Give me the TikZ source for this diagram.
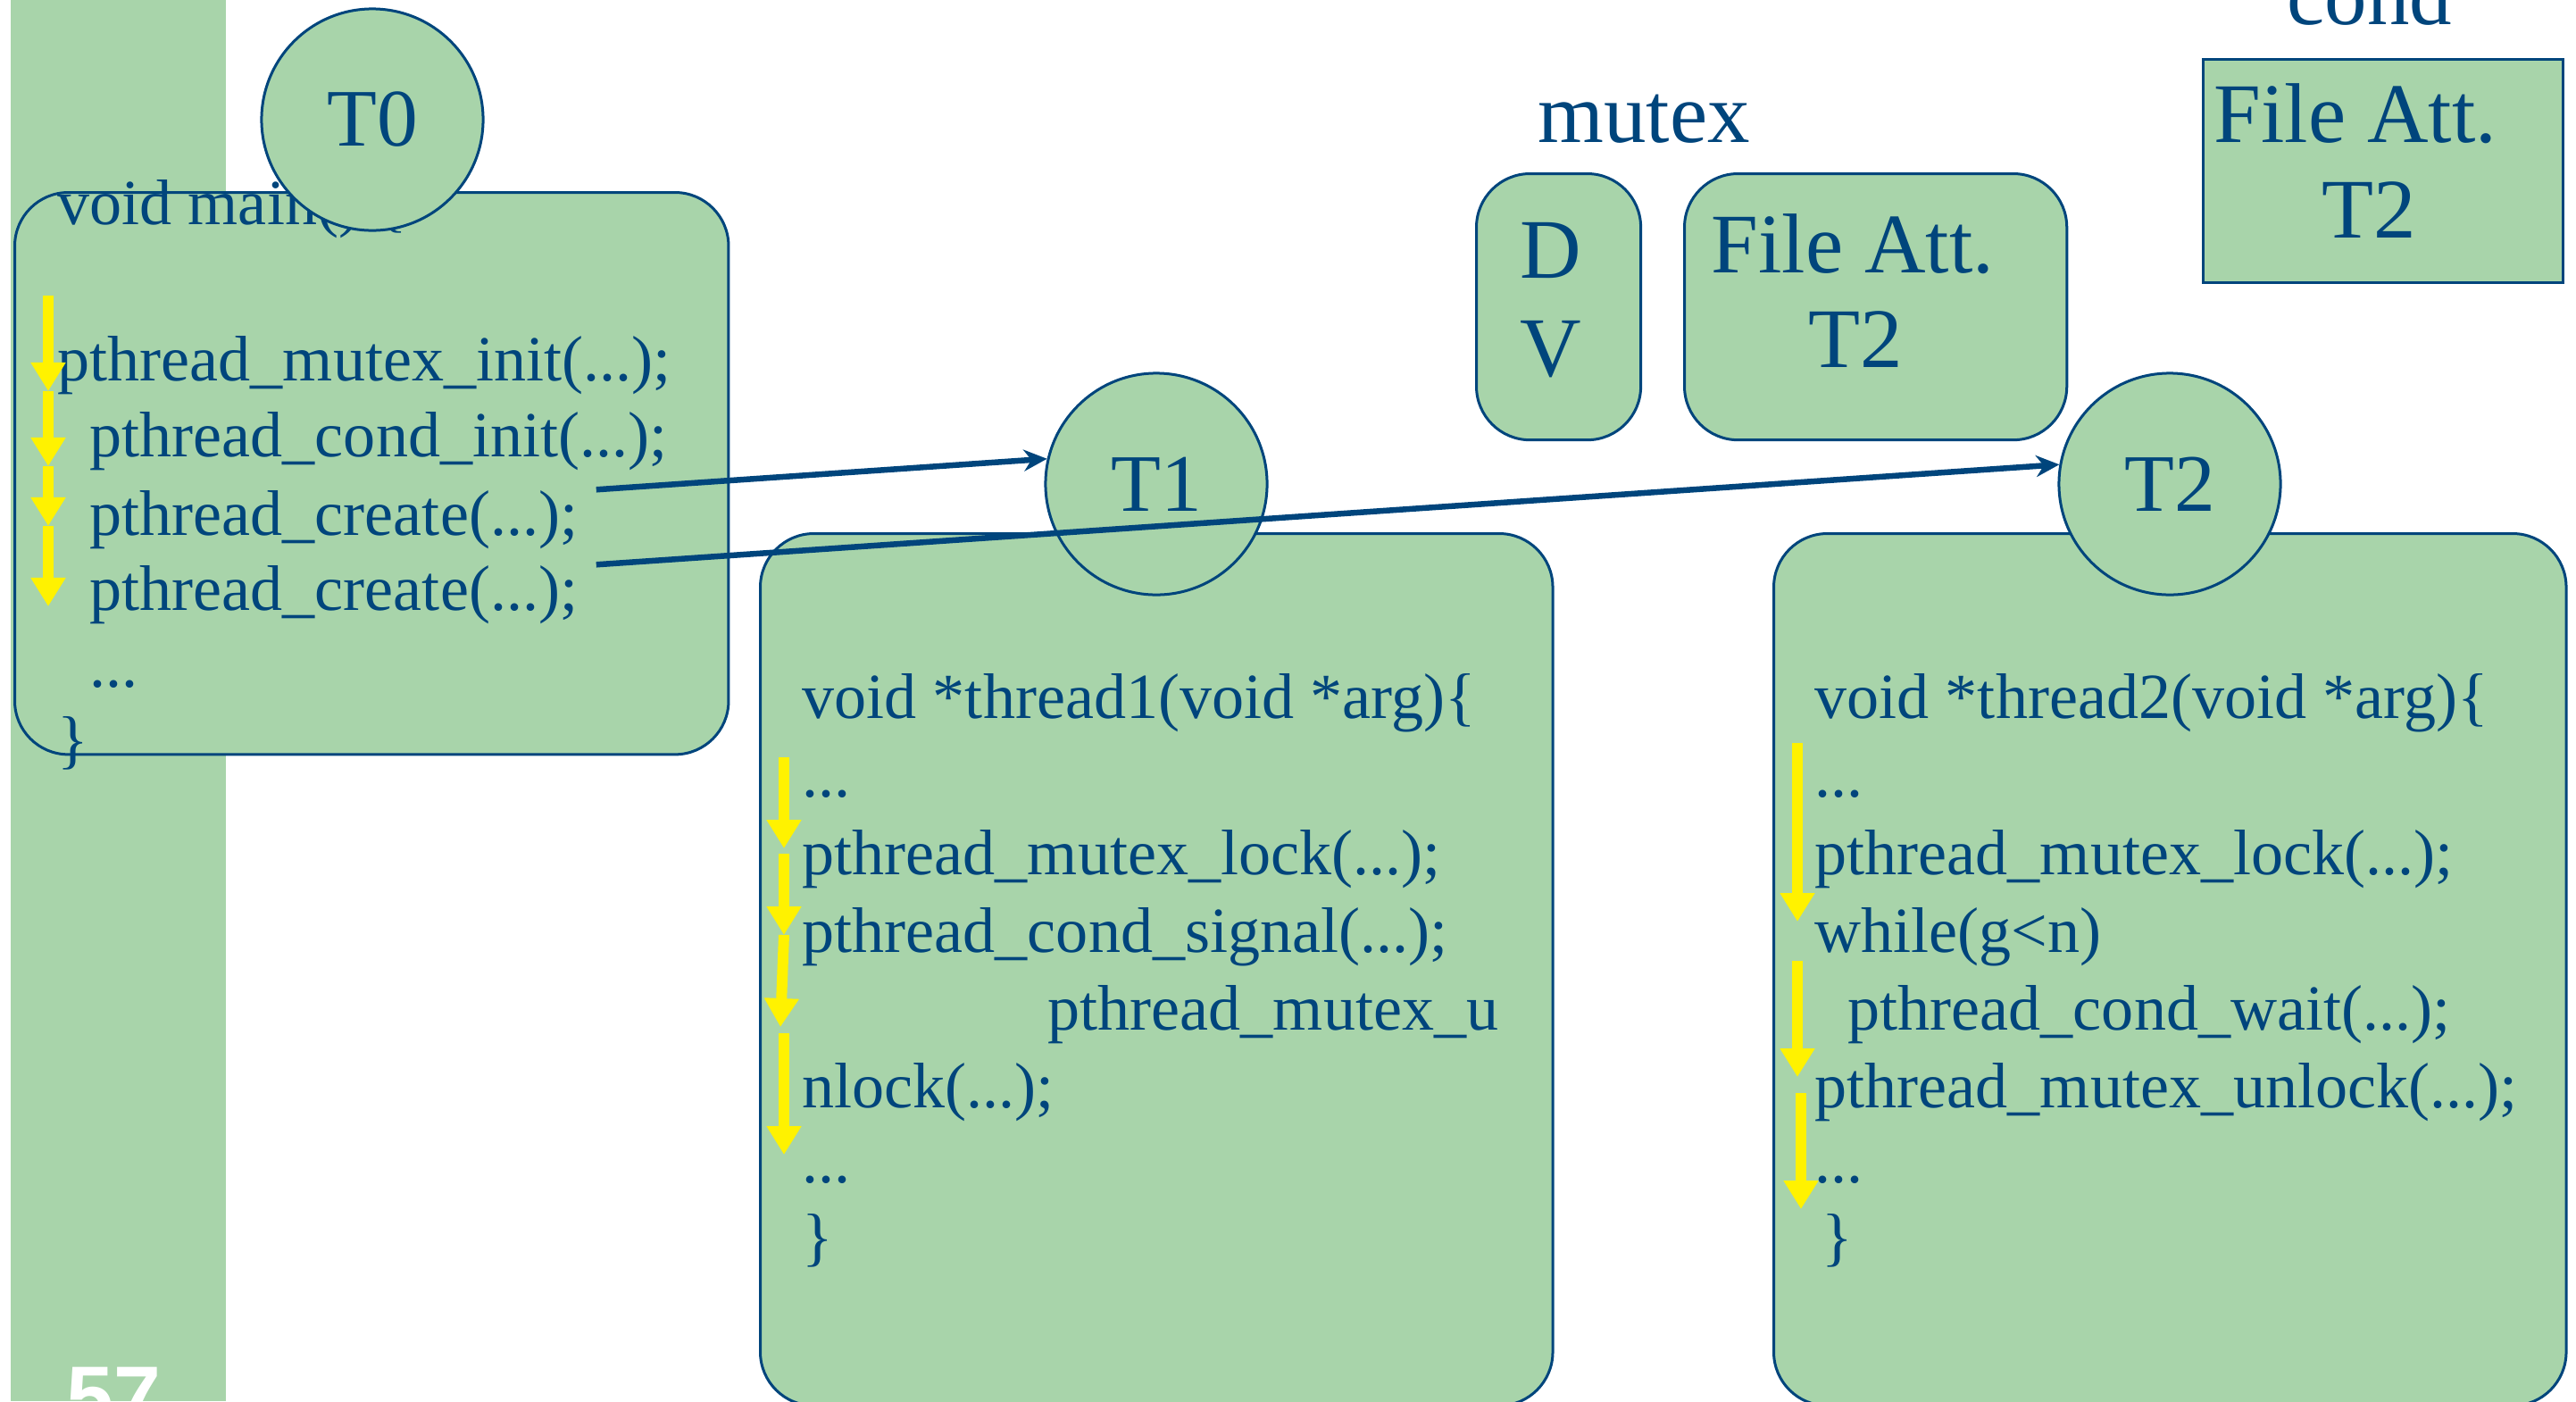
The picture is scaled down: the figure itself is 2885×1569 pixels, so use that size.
\documentclass[tikz,border=0pt]{standalone}
\usepackage{fontspec}
\setmainfont{Liberation Serif}
\newfontfamily\pagenumfont{Liberation Sans}
\usetikzlibrary{arrows.meta}
\definecolor{slideblue}{RGB}{0,69,124}
\definecolor{slidegreen}{RGB}{168,212,170}
\newcommand{\codesize}{\fontsize{20.5}{24.5}\selectfont}
\newcommand{\labelsize}{\fontsize{27}{30.5}\selectfont}

\begin{document}
\begin{tikzpicture}[x=0.01cm, y=-0.01cm,
% common options for the code boxes:
codebox/.style = {draw=slideblue, fill=slidegreen, line width=0.03cm,
            rounded corners=0.6cm, anchor=north west, inner sep=0},
% common options for the thread circles:
thread/.style = {circle, draw=slideblue, fill=slidegreen, line width=0.03cm,
            minimum size=2.48cm, inner sep=0, text=slideblue,
            font=\fontsize{26}{30}\selectfont},
code/.style = {anchor=base west, inner sep=0, text=slideblue, font=\codesize},
lbl/.style = {anchor=base, inner sep=0, text=slideblue, font=\labelsize},
flow/.style = {draw=yellow, line width=0.12cm, -{Triangle[width=0.37cm,length=0.32cm]}},
spawn/.style = {draw=slideblue, line width=0.065cm, -{Stealth[width=0.24cm,length=0.26cm]}}]
\useasboundingbox (0,0) rectangle (2885,1569);
\fill[slidegreen] (12,0) rectangle (253,1569);
\node[anchor=base west, inner sep=0, text=white,
      font=\pagenumfont\bfseries\fontsize{27}{30}\selectfont] (pagenum) at (74,1596) {57};
% boxes
\node[codebox, minimum width=7.99cm, minimum height=6.29cm] (mainbox) at (15,214) {};
\node[codebox, minimum width=8.87cm, minimum height=9.76cm] (box1) at (850,596) {};
\node[codebox, minimum width=8.87cm, minimum height=9.76cm] (box2) at (1985,596) {};
\node[codebox, minimum width=1.84cm, minimum height=2.98cm] (dv) at (1652,193) {};
\node[codebox, minimum width=4.28cm, minimum height=2.98cm] (mtxatt) at (1885,193) {};
\node[codebox, rounded corners=0, minimum width=4.03cm, minimum height=2.50cm] (condatt) at (2466,65) {};
% mutex and cond
\node[lbl] (mutexlbl) at (1841,159) {mutex};
\node[lbl] (condlbl) at (2654,27) {cond};
\node[lbl] (dtext) at (1737,311) {D};
\node[lbl] (vtext) at (1737,421) {V};
\node[lbl] (mtxfile) at (2075,305) {File Att.};
\node[lbl] (mtxowner) at (2078,411) {T2};
\node[lbl] (condfile) at (2638,159) {File Att.};
\node[lbl] (condowner) at (2653,266) {T2};
% main thread
\node[code] (mainsig) at (64,251) {void main() \{};
\node[code] (mtxinit) at (64,426) {pthread\_mutex\_init(...);};
\node[code] (condinit) at (100,511) {pthread\_cond\_init(...);};
\node[code] (create1) at (100,599) {pthread\_create(...);};
\node[code] (create2) at (100,683) {pthread\_create(...);};
\node[code] (maindots) at (100,769) {...};
\node[code] (mainend) at (64,852) {\}};
% thread 1
\node[code] (sig1) at (898,804) {void *thread1(void *arg)\{};
\node[code] (dotsa1) at (898,892) {...};
\node[code] (lock1) at (898,979) {pthread\_mutex\_lock(...);};
\node[code] (signal1) at (898,1066) {pthread\_cond\_signal(...);};
\node[code] (unlocka1) at (1173,1153) {pthread\_mutex\_u};
\node[code] (unlockb1) at (898,1240) {nlock(...);};
\node[code] (dotsb1) at (898,1324) {...};
\node[code] (end1) at (898,1409) {\}};
% thread 2
\node[code] (sig2) at (2032,804) {void *thread2(void *arg)\{};
\node[code] (dotsa2) at (2032,892) {...};
\node[code] (lock2) at (2032,979) {pthread\_mutex\_lock(...);};
\node[code] (while2) at (2032,1066) {while(g<n)};
\node[code] (wait2) at (2069,1153) {pthread\_cond\_wait(...);};
\node[code] (unlock2) at (2032,1240) {pthread\_mutex\_unlock(...);};
\node[code] (dotsb2) at (2032,1324) {...};
\node[code] (end2) at (2040,1409) {\}};
% thread circles
\node[thread] (t0) at (417,134) {T0};
\node[thread] (t1) at (1295,542) {T1};
\node[thread] (t2) at (2430,542) {T2};
\draw[spawn] ([xshift=0.2cm]create1.north east) -- (t1.167);
\draw[spawn] ([xshift=0.2cm]create2.north east) -- (t2.170);
% execution steps
\draw[flow] (54,331) -- (54,438);
\draw[flow] (54,438) -- (54,522);
\draw[flow] (54,522) -- (54,589);
\draw[flow] (54,589) -- (54,679);
\draw[flow] (878,848) -- (878,950);
\draw[flow] (878,956) -- (878,1047);
\draw[flow] (878,1047) -- (874,1150);
\draw[flow] (878,1157) -- (878,1293);
\draw[flow] (2013,832) -- (2013,1032);
\draw[flow] (2013,1076) -- (2013,1206);
\draw[flow] (2017,1224) -- (2017,1354);
\end{tikzpicture}
\end{document}
